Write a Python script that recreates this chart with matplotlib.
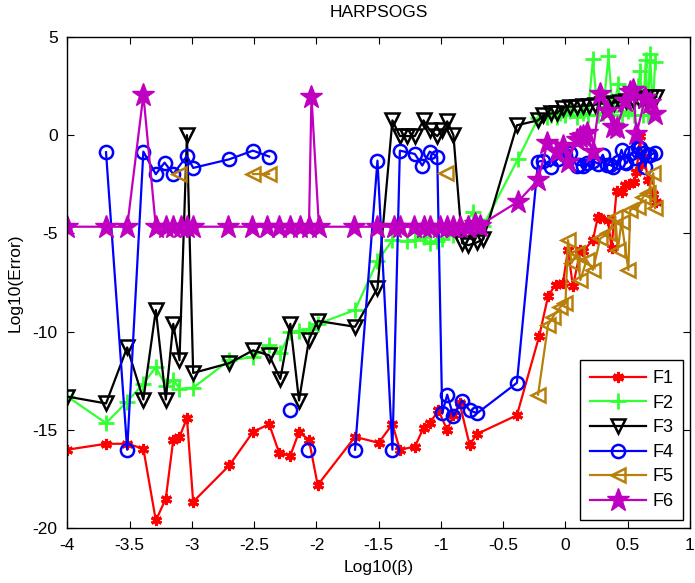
import numpy as np
import matplotlib
matplotlib.use("Agg")
import matplotlib.pyplot as plt
from matplotlib.ticker import FormatStrFormatter

nan = np.nan

# F1
f1_x = [-4.00, -3.69, -3.52, -3.39, -3.29, -3.21, -3.15, -3.10, -3.04, -2.99, -2.70, -2.51,
        -2.38, -2.30, -2.21, -2.14, -2.06, -1.99, -1.69, -1.50, -1.39, -1.33, -1.21, -1.14,
        -1.09, -1.02, -0.95, -0.90, -0.85, -0.77, -0.71, -0.39, -0.21, -0.14, -0.08, -0.02,
        0.02, 0.06, 0.12, 0.14, 0.22, 0.26, 0.28, 0.34, 0.37, 0.41, 0.45, 0.48, 0.51, 0.55,
        0.57, 0.60, 0.61, 0.63, 0.665, 0.70, 0.73]
f1_y = [-16.0, -15.7, -15.7, -15.95, -19.6, -18.5, -15.5, -15.35, -14.4, -18.65, -16.8, -15.1,
        -14.7, -16.15, -16.3, -15.1, -15.5, -17.8, -15.35, -15.65, -14.7, -16.0, -15.85, -14.9,
        -14.65, -14.0, -15.0, -14.25, -13.65, -15.75, -15.2, -14.25, -10.2, -8.2, -7.6, -7.5,
        -5.85, -7.7, -5.85, -5.9, -5.35, -4.15, -4.2, -4.3, -5.75, -2.85, -2.9, -2.55, -2.5, -2.4,
        -1.9, -0.05, -1.5, -1.1, -2.3, -3.0, -3.4]

# F2
f2_x = [-4.00, -3.69, -3.52, -3.39, -3.29, -3.21, -3.15, -3.10, -2.99, -2.70, -2.51, -2.38,
        -2.29, -2.21, -2.14, -2.06, -1.99, -1.69, -1.51, -1.39, -1.27, -1.21, -1.14, -1.09,
        -1.03, -0.99, -0.90, -0.83, -0.74, -0.66, -0.38, -0.22, -0.15, -0.12, -0.07, -0.04,
        0.00, 0.04, 0.09, 0.14, 0.18, 0.22, 0.26, 0.30, 0.345, 0.38, 0.425, 0.45, 0.50, 0.55,
        0.585, 0.60, 0.62, 0.645, 0.66, 0.68, 0.70, 0.72]
f2_y = [-13.3, -14.65, -13.55, -12.65, -11.8, -12.75, -12.45, -12.9, -12.85, -11.45, -11.3, -10.7,
        -11.1, -10.0, -9.95, -9.85, -9.6, -8.9, -6.4, -5.35, -5.4, -5.35, -5.2, -5.5,
        -5.4, -5.3, -5.1, -4.75, -3.9, -4.6, -1.2, 0.85, 0.9, 1.0, 0.9, 1.1,
        1.0, 1.2, 0.9, 1.1, 1.0, 3.85, 1.0, 1.1, 4.0, 1.2, 2.6, 1.0, 1.2, 1.0,
        2.5, 3.25, 1.0, 3.8, 1.0, 4.1, 1.2, 3.7]

# F3
f3_x = [-4.00, -3.69, -3.52, -3.39, -3.29, -3.21, -3.15, -3.10, -3.04, -2.99, -2.70, -2.51,
        -2.38, -2.29, -2.21, -2.14, -2.06, -1.99, -1.69, -1.51, -1.39, -1.33, -1.27, -1.21,
        -1.14, -1.09, -1.03, -0.99, -0.95, -0.90, -0.83, -0.78, -0.71, -0.66, -0.39, -0.22,
        -0.18, -0.12, -0.07, -0.02, 0.04, 0.09, 0.14, 0.19, 0.24, 0.29, 0.34, 0.39, 0.44,
        0.49, 0.54, 0.59, 0.64, 0.69, 0.73]
f3_y = [-13.3, -13.65, -10.8, -13.45, -8.9, -13.45, -9.6, -11.45, 0.0, -12.1, -11.6, -10.95,
        -11.2, -12.4, -9.6, -13.5, -10.4, -9.45, -9.75, -7.8, 0.75, -0.05, -0.05, -0.05,
        0.75, 0.25, -0.05, 0.25, 0.7, 0.0, -5.5, -5.6, -5.45, -5.3, 0.5, 0.75,
        1.0, 1.1, 1.1, 1.4, 1.45, 1.45, 1.5, 1.5, 1.55, 1.6, 1.6, 1.65, 1.7,
        1.75, 1.8, 1.85, 1.9, 1.95, 1.95]

# F4
f4_x = [-3.69, -3.52, -3.39, -3.29, -3.22, -3.15, -3.04, -2.99, -2.70, -2.51, -2.38, -2.30,
        -2.21, -2.14, -2.07, -1.99, -1.69, -1.51, -1.39, -1.33, -1.21, -1.15, -1.09, -1.03,
        -0.99, -0.95, -0.90, -0.83, -0.77, -0.71, -0.39, -0.22, -0.18, -0.12, -0.06, 0.00,
        0.04, 0.09, 0.11, 0.14, 0.17, 0.22, 0.26, 0.30, 0.33, 0.36, 0.38, 0.42, 0.45, 0.48,
        0.49, 0.53, 0.56, 0.585, 0.60, 0.63, 0.64, 0.665, 0.68, 0.72]
f4_y = [-0.87, -16.0, -0.84, -1.99, -1.4, -1.98, -1.06, -1.67, -1.23, -0.79, -1.09, nan,
        -14.0, nan, -16.0, nan, -16.0, -1.3, -16.0, -0.79, -0.96, -1.55, -0.84, -1.09,
        -14.15, -13.2, -14.3, -13.5, -14.0, -14.15, -12.6, -1.35, -1.3, -1.6, -1.2, -1.0,
        -0.92, -1.55, -1.52, -1.55, -1.43, -1.3, -1.45, -1.0, -1.52, -1.52, -1.6, -1.35, -0.75, -1.35,
        -1.43, -0.92, -1.18, -0.6, -0.67, -0.9, -1.6, -1.0, -1.0, -0.9]

# F5
f5_x = [-3.10, -3.05, -2.51, -2.38, -2.30, -0.96, -0.90, -0.22, -0.14, -0.10, -0.04, 0.00,
        0.02, 0.05, 0.09, 0.12, 0.17, 0.22, 0.28, 0.345, 0.40, 0.42, 0.45, 0.505, 0.52,
        0.585, 0.625, 0.665, 0.705, 0.72]
f5_y = [-1.98, nan, -1.98, -1.98, nan, -1.94, nan, -13.2, -9.66, -9.24, -8.73, -8.56,
        -5.34, -6.5, -6.0, -7.37, -6.35, -6.86, -5.25, -5.0, -4.15, -5.85, -4.4, -6.86, -3.8,
        -3.64, -3.13, -2.96, -1.94, -3.72]

# F6
f6_x = [-4.00, -3.69, -3.52, -3.39, -3.29, -3.21, -3.15, -3.09, -3.04, -2.99, -2.71, -2.52,
        -2.40, -2.30, -2.21, -2.13, -2.06, -2.04, -1.98, -1.70, -1.51, -1.38, -1.33, -1.22,
        -1.14, -1.09, -1.01, -0.95, -0.90, -0.85, -0.78, -0.73, -0.69, -0.38, -0.22, -0.145,
        -0.07, -0.02, 0.02, 0.09, 0.12, 0.14, 0.17, 0.22, 0.28, 0.33, 0.385, 0.41, 0.48,
        0.52, 0.545, 0.57, 0.64, 0.68, 0.72]
f6_y = [-4.66, -4.66, -4.66, 2.05, -4.66, -4.66, -4.66, -4.66, -4.66, -4.66, -4.66, -4.66,
        -4.66, -4.66, -4.66, -4.66, -4.66, 1.96, -4.66, -4.66, -4.66, -4.66, -4.66, -4.66,
        -4.66, -4.66, -4.66, -4.66, -4.66, -4.66, -4.66, -4.5, -4.6, -3.38, -2.28, -0.41,
        -0.84, -0.58, -1.35, -0.24, -0.08, -0.07, 0.1, -0.84, 2.1, 1.25, 0.43, 0.35, 1.71,
        2.2, 2.3, 0.05, 1.88, 1.62, 1.05]

labels = ["F1", "F2", "F3", "F4", "F5", "F6"]
x_ticks = [-4, -3.5, -3, -2.5, -2, -1.5, -1, -0.5, 0, 0.5, 1]
y_ticks = [-20, -15, -10, -5, 0, 5]

plt.rcParams["font.family"] = ["Liberation Sans", "DejaVu Sans"]
plt.rcParams["axes.unicode_minus"] = False

fig = plt.figure(figsize=(6.95, 5.83), dpi=100)
ax = fig.add_axes([0.097, 0.0938, 0.8958, 0.8431])

lw = 1.6
styles = [
    dict(color="#ff0000", marker=(6, 2, 0), markersize=8, mew=2.2),
    dict(color="#33ff33", marker="+", markersize=11, mew=2.0),
    dict(color="black", marker="v", markersize=10, mfc="none", mew=1.8),
    dict(color="#0000ff", marker="o", markersize=9.5, mfc="none", mew=1.8),
    dict(color="#b8800a", marker="<", markersize=10, mfc="none", mew=1.8),
    dict(color="#c000c0", marker="*", markersize=17, mew=1.0),
]
series = [(f1_x, f1_y), (f2_x, f2_y), (f3_x, f3_y), (f4_x, f4_y), (f5_x, f5_y), (f6_x, f6_y)]

for (xs, ys), lab, st in zip(series, labels, styles):
    ax.plot(xs, ys, linewidth=lw, label=lab, **st)

ax.set_xlim(-4, 1)
ax.set_ylim(-20, 5)
ax.set_xticks(x_ticks)
ax.set_yticks(y_ticks)
ax.xaxis.set_major_formatter(FormatStrFormatter("%g"))
ax.yaxis.set_major_formatter(FormatStrFormatter("%g"))
ax.tick_params(direction="in", top=True, right=True, length=5, width=0.8,
               labelsize=12.5, pad=7)
for sp in ax.spines.values():
    sp.set_linewidth(1.0)

ax.set_title("HARPSOGS", fontsize=12.5, pad=14)
ax.set_xlabel("Log10(β)", fontsize=12.5, labelpad=5)
ax.set_ylabel("Log10(Error)", fontsize=12.5, labelpad=7)

leg = ax.legend(loc="lower right", bbox_to_anchor=(0.989, 0.017), borderaxespad=0,
                fontsize=13, numpoints=1, handlelength=3.1, handletextpad=0.35,
                labelspacing=0.42, borderpad=0.55, fancybox=False, framealpha=1,
                edgecolor="black")
leg.get_frame().set_linewidth(1.0)

fig.savefig("out.png", dpi=100)
